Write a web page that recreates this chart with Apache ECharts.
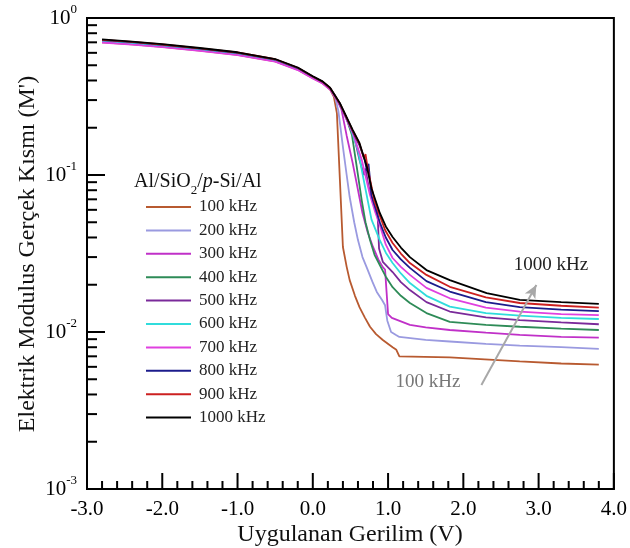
<!DOCTYPE html>
<html><head><meta charset="utf-8">
<script src="https://cdn.jsdelivr.net/npm/echarts@6/dist/echarts.min.js"></script>
<style>html,body{margin:0;padding:0;background:#fff}#c{width:630px;height:548px}</style>
</head><body><div id="c"></div>
<script>
// ---- data (V, M') ----
const names = ['100 kHz','200 kHz','300 kHz','400 kHz','500 kHz','600 kHz','700 kHz','800 kHz','900 kHz','1000 kHz'];
const colors = ['#b85a30','#9a9ae0','#c030c8','#2e8b57','#7a2a9a','#30dcdc','#e040e0','#1c1c8c','#cc2020','#000000'];
const f100 = [[-2.8,0.700],[-2.4,0.680],[-2.0,0.655],[-1.5,0.620],[-1.0,0.583],[-0.5,0.529],[-0.2,0.468],[0.0,0.414],[0.13,0.384],[0.23,0.350],[0.28,0.315],[0.32,0.248],[0.36,0.093],[0.40,0.0348],[0.45,0.0260],[0.49,0.0214],[0.56,0.0170],[0.62,0.0144],[0.69,0.0124],[0.76,0.0108],[0.84,0.0097],[0.93,0.0089],[1.06,0.0080],[1.11,0.0077],[1.15,0.0070],[1.82,0.0069],[2.75,0.0065],[3.3,0.0063],[3.8,0.0062]];
const f200 = [[-2.8,0.712],[-2.4,0.691],[-2.0,0.666],[-1.5,0.630],[-1.0,0.592],[-0.5,0.537],[-0.2,0.475],[0.0,0.419],[0.13,0.389],[0.23,0.355],[0.30,0.310],[0.34,0.255],[0.40,0.151],[0.45,0.100],[0.49,0.0724],[0.55,0.050],[0.60,0.0385],[0.66,0.030],[0.72,0.0255],[0.79,0.0210],[0.85,0.0180],[0.92,0.0160],[0.96,0.0148],[0.99,0.0118],[1.04,0.0100],[1.10,0.0096],[1.15,0.0093],[1.50,0.0089],[1.82,0.0087],[2.3,0.0084],[2.75,0.0082],[3.3,0.0080],[3.8,0.0078]];
const f300 = [[-2.8,0.706],[-2.4,0.685],[-2.0,0.660],[-1.5,0.625],[-1.0,0.587],[-0.5,0.533],[-0.2,0.471],[0.0,0.416],[0.13,0.386],[0.23,0.352],[0.30,0.318],[0.38,0.262],[0.45,0.178],[0.53,0.119],[0.59,0.085],[0.66,0.0573],[0.73,0.043],[0.80,0.0348],[0.87,0.029],[0.93,0.0259],[0.96,0.0250],[0.98,0.0180],[1.00,0.0130],[1.05,0.0123],[1.29,0.0111],[1.50,0.0107],[1.82,0.0103],[2.3,0.0099],[2.75,0.0096],[3.3,0.0093],[3.8,0.0092]];
const f400 = [[-2.8,0.714],[-2.4,0.693],[-2.0,0.667],[-1.5,0.631],[-1.0,0.593],[-0.5,0.538],[-0.2,0.476],[0.0,0.420],[0.13,0.389],[0.23,0.355],[0.36,0.281],[0.44,0.235],[0.52,0.180],[0.57,0.125],[0.65,0.069],[0.70,0.050],[0.76,0.0385],[0.82,0.031],[0.89,0.0267],[0.97,0.0225],[1.06,0.0193],[1.17,0.0170],[1.29,0.0153],[1.51,0.0132],[1.82,0.0116],[2.3,0.0111],[2.75,0.0108],[3.3,0.0105],[3.8,0.0103]];
const f500 = [[-2.8,0.716],[-2.4,0.695],[-2.0,0.669],[-1.5,0.633],[-1.0,0.595],[-0.5,0.539],[-0.2,0.477],[0.0,0.420],[0.13,0.390],[0.23,0.356],[0.36,0.282],[0.48,0.210],[0.56,0.167],[0.62,0.125],[0.68,0.100],[0.70,0.110],[0.74,0.085],[0.80,0.066],[0.86,0.058],[0.88,0.034],[0.93,0.028],[1.06,0.0241],[1.17,0.0208],[1.29,0.0185],[1.51,0.0155],[1.82,0.0135],[2.3,0.0124],[2.75,0.0119],[3.3,0.0115],[3.8,0.0112]];
const f600 = [[-2.8,0.713],[-2.4,0.692],[-2.0,0.667],[-1.5,0.631],[-1.0,0.593],[-0.5,0.538],[-0.2,0.476],[0.0,0.420],[0.13,0.390],[0.23,0.356],[0.36,0.283],[0.50,0.200],[0.60,0.144],[0.69,0.086],[0.78,0.052],[0.89,0.0385],[0.97,0.032],[1.06,0.0275],[1.17,0.0236],[1.29,0.0205],[1.51,0.0170],[1.82,0.0145],[2.3,0.0132],[2.75,0.0127],[3.3,0.0123],[3.8,0.0121]];
const f700 = [[-2.8,0.698],[-2.4,0.677],[-2.0,0.652],[-1.5,0.617],[-1.0,0.580],[-0.5,0.527],[-0.2,0.466],[0.0,0.412],[0.13,0.383],[0.23,0.350],[0.36,0.280],[0.53,0.186],[0.65,0.125],[0.76,0.0746],[0.83,0.058],[0.89,0.048],[0.97,0.036],[1.06,0.0296],[1.17,0.0260],[1.29,0.0231],[1.51,0.0191],[1.82,0.0164],[2.3,0.0143],[2.75,0.0135],[3.3,0.0130],[3.8,0.0128]];
const f800 = [[-2.8,0.722],[-2.4,0.701],[-2.0,0.675],[-1.5,0.639],[-1.0,0.600],[-0.5,0.544],[-0.2,0.480],[0.0,0.423],[0.13,0.392],[0.23,0.357],[0.36,0.284],[0.53,0.190],[0.62,0.155],[0.69,0.125],[0.72,0.106],[0.74,0.118],[0.78,0.074],[0.89,0.050],[0.97,0.040],[1.06,0.0333],[1.17,0.0290],[1.29,0.0256],[1.51,0.0211],[1.82,0.0181],[2.3,0.0155],[2.75,0.0144],[3.3,0.0139],[3.8,0.0136]];
const f900 = [[-2.8,0.726],[-2.4,0.704],[-2.0,0.678],[-1.5,0.641],[-1.0,0.603],[-0.5,0.546],[-0.2,0.482],[0.0,0.424],[0.13,0.393],[0.23,0.358],[0.36,0.285],[0.53,0.192],[0.62,0.158],[0.68,0.128],[0.70,0.136],[0.73,0.110],[0.82,0.068],[0.96,0.0446],[1.06,0.0369],[1.17,0.0316],[1.29,0.0275],[1.51,0.0231],[1.82,0.0194],[2.3,0.0166],[2.75,0.0153],[3.3,0.0147],[3.8,0.0143]];
const f1000 = [[-2.8,0.730],[-2.4,0.707],[-2.0,0.681],[-1.5,0.644],[-1.0,0.605],[-0.5,0.548],[-0.2,0.484],[0.0,0.426],[0.13,0.395],[0.23,0.360],[0.36,0.287],[0.53,0.194],[0.62,0.160],[0.72,0.112],[0.78,0.082],[0.89,0.0573],[0.97,0.047],[1.06,0.0403],[1.17,0.0345],[1.29,0.0300],[1.51,0.0248],[1.82,0.0214],[2.31,0.0177],[2.75,0.0160],[3.3,0.0155],[3.8,0.0151]];
const seriesData = [f100,f200,f300,f400,f500,f600,f700,f800,f900,f1000];
// tick values
const majorXTicks = [-3,-2,-1,0,1,2,3,4];
const minorXTicks = [-2.8,-2.6,-2.4,-2.2,-1.8,-1.6,-1.4,-1.2,-0.8,-0.6,-0.4,-0.2,0.2,0.4,0.6,0.8,1.2,1.4,1.6,1.8,2.2,2.4,2.6,2.8,3.2,3.4,3.6,3.8];
const majorYTicks = [0.001,0.01,0.1,1];
const minorYTicks = [0.002,0.003,0.004,0.005,0.006,0.007,0.008,0.009,0.02,0.03,0.04,0.05,0.06,0.07,0.08,0.09,0.2,0.3,0.4,0.5,0.6,0.7,0.8,0.9];
const arrowFrom = [2.24, 0.0046];
const arrowTo = [2.97, 0.0199];

const X_MIN = -3, X_MAX = 4, Y_MIN = 0.001, Y_MAX = 1;
const FF = '"Liberation Serif","Times New Roman",serif';
const chart = echarts.init(document.getElementById('c'));

// tick marks: [x, y, length(px), direction 1=up (x-axis) / 0=right (y-axis)]
const tickData = []
  .concat(majorXTicks.map(v=>[v, Y_MIN, 16, 1]))
  .concat(minorXTicks.map(v=>[v, Y_MIN, 8, 1]))
  .concat(majorYTicks.map(v=>[X_MIN, v, 18, 0]))
  .concat(minorYTicks.map(v=>[X_MIN, v, 10, 0]));

const series = seriesData.map((d,i)=>({
  name: names[i], type:'line', data:d, symbol:'none', smooth:false,
  lineStyle:{color:colors[i], width:1.8}, itemStyle:{color:colors[i]}
}));
series.push({
  name:'arrow', type:'line', data:[], symbol:'none',
  markLine:{silent:true, symbol:['none','arrow'], symbolSize:[9,13],
    lineStyle:{color:'#a8a8a8', width:2, type:'solid'}, label:{show:false},
    data:[[{coord:arrowFrom},{coord:arrowTo}]]}
});
series.push({
  name:'ticks', type:'custom', silent:true, clip:false, z:5,
  dimensions:['x','y','len','dir'], encode:{x:0, y:1},
  data: tickData,
  renderItem:(params, api)=>{
    const p = api.coord([api.value(0), api.value(1)]);
    const len = api.value(2), up = api.value(3) === 1;
    return {type:'line', shape:{x1:p[0], y1:p[1], x2: up ? p[0] : p[0]+len, y2: up ? p[1]-len : p[1]},
            style:{stroke:'#000', lineWidth:2}};
  }
});
chart.setOption({
  animation:false,
  grid:{left:87, right:16, top:18, bottom:59, show:true, borderColor:'#000', borderWidth:2},
  xAxis:{type:'value', min:X_MIN, max:X_MAX, interval:1,
    axisLine:{show:true, onZero:false, lineStyle:{color:'#000', width:2}},
    axisTick:{show:false}, splitLine:{show:false},
    axisLabel:{margin:10, color:'#000', fontFamily:FF, fontSize:21, formatter:v=>v.toFixed(1)}},
  yAxis:{type:'log', logBase:10, min:Y_MIN, max:Y_MAX,
    axisLine:{show:true, onZero:false, lineStyle:{color:'#000', width:2}},
    axisTick:{show:false}, splitLine:{show:false},
    axisLabel:{margin:10, color:'#000', fontFamily:FF,
      formatter:v=>'{b|10}{s|'+Math.round(Math.log10(v))+'}',
      rich:{b:{fontSize:21, fontFamily:FF, color:'#000', lineHeight:30},
            s:{fontSize:13, fontFamily:FF, color:'#000', verticalAlign:'top', lineHeight:30}}}},
  legend:{orient:'vertical', left:146, top:198.5, padding:0, itemWidth:45, itemHeight:2, itemGap:6.4, icon:'rect',
    data:names, textStyle:{fontFamily:FF, fontSize:17, color:'#222', padding:[0,0,0,3]}},
  graphic:[
    {type:'text', x:28, y:254, rotation:Math.PI/2,
     style:{text:"Elektrik Modulus Gerçek Kısmı (M')", fontFamily:FF, fontSize:24, fill:'#111', align:'center', verticalAlign:'middle'}},
    {type:'text', x:350, y:535,
     style:{text:'Uygulanan Gerilim (V)', fontFamily:FF, fontSize:24, fill:'#111', align:'center', verticalAlign:'middle'}},
    {type:'text', x:134, y:182,
     style:{text:'Al/SiO{sub|2}/{it|p}-Si/Al', fontFamily:FF, fontSize:20, fill:'#111', verticalAlign:'middle',
       rich:{sub:{fontSize:13, fontFamily:FF, fill:'#111', verticalAlign:'bottom', lineHeight:30},
             it:{fontStyle:'italic', fontSize:20, fontFamily:FF, fill:'#111', lineHeight:22}}}},
    {type:'text', x:551, y:265,
     style:{text:'1000 kHz', fontFamily:FF, fontSize:19, fill:'#222', align:'center', verticalAlign:'middle'}},
    {type:'text', x:428, y:382,
     style:{text:'100 kHz', fontFamily:FF, fontSize:19, fill:'#777', align:'center', verticalAlign:'middle'}}
  ],
  series:series
});
</script></body></html>
